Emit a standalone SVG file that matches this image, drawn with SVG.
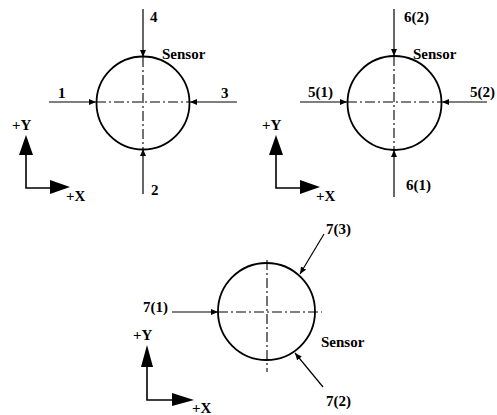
<svg xmlns="http://www.w3.org/2000/svg" width="497" height="415" viewBox="0 0 497 415">
<defs>
<style>
.circ{fill:none;stroke:#000;stroke-width:1.8}
.cl{fill:none;stroke:#000;stroke-width:1.1;stroke-dasharray:10 3 2 3}
.ar{fill:none;stroke:#000;stroke-width:1.2;marker-end:url(#ah)}
.ax{fill:none;stroke:#000;stroke-width:1.6}
.axh{fill:#000;stroke:none}
text{font-family:"Liberation Serif","Times New Roman",serif;font-weight:bold;font-size:15px;fill:#000}
</style>
<marker id="ah" markerUnits="userSpaceOnUse" markerWidth="8" markerHeight="6" refX="7" refY="3" orient="auto">
<path d="M0,0 L7,3 L0,6 Z" fill="#000"/>
</marker>
</defs>
<rect width="497" height="415" fill="#fff"/>

<g id="sensor1">
<circle class="circ" cx="143" cy="103" r="46.5"/>
<line class="cl" x1="96" y1="102" x2="190" y2="102"/>
<line class="cl" x1="143" y1="57" x2="143" y2="149"/>
<text x="162" y="59">Sensor</text>
</g>
<g id="sensor2">
<circle class="circ" cx="394.5" cy="103" r="47"/>
<line class="cl" x1="347" y1="102" x2="442" y2="102"/>
<line class="cl" x1="394" y1="56" x2="394" y2="150"/>
<text x="413" y="59">Sensor</text>
</g>
<g id="sensor3">
<circle class="circ" cx="266.5" cy="311.5" r="48.5"/>
<line class="cl" x1="218" y1="312" x2="322" y2="312"/>
<line class="cl" x1="267" y1="260" x2="267" y2="372"/>
<text x="321" y="347">Sensor</text>
</g>

<g id="connectors">
<line class="ar" x1="143" y1="9" x2="143" y2="57"/>
<line class="ar" x1="49" y1="102" x2="96" y2="102"/>
<line class="ar" x1="237" y1="102" x2="190" y2="102"/>
<line class="ar" x1="143" y1="194" x2="143" y2="149"/>
<line class="ar" x1="394" y1="9" x2="394" y2="56"/>
<line class="ar" x1="300" y1="102" x2="347" y2="102"/>
<line class="ar" x1="487" y1="102" x2="442" y2="102"/>
<line class="ar" x1="394" y1="197" x2="394" y2="150"/>
<line class="ar" x1="172" y1="312" x2="218" y2="312"/>
<line class="ar" x1="324" y1="234" x2="300" y2="274"/>
<line class="ar" x1="323" y1="387" x2="295" y2="353"/>
</g>

<g id="labels">
<text x="150" y="22">4</text>
<text x="58" y="98">1</text>
<text x="221" y="98">3</text>
<text x="151" y="195">2</text>
<text x="404" y="22">6(2)</text>
<text x="308" y="97">5(1)</text>
<text x="470" y="97">5(2)</text>
<text x="406" y="190">6(1)</text>
<text x="326" y="234">7(3)</text>
<text x="143" y="312">7(1)</text>
<text x="326" y="406">7(2)</text>
</g>

<g id="axes1">
<polyline class="ax" points="26,150 26,188 52,188"/>
<polygon class="axh" points="26,135 19,155 33,155"/>
<polygon class="axh" points="70,187 50,180 50,194"/>
<text x="12" y="130">+Y</text>
<text x="66" y="201">+X</text>
</g>
<g id="axes2">
<polyline class="ax" points="276,150 276,188 302,188"/>
<polygon class="axh" points="276,135 269,155 283,155"/>
<polygon class="axh" points="320,187 300,180 300,194"/>
<text x="262" y="130">+Y</text>
<text x="316" y="201">+X</text>
</g>
<g id="axes3">
<polyline class="ax" points="147,362 147,400 174,400"/>
<polygon class="axh" points="147,345 141,367 153,367"/>
<polygon class="axh" points="194,400 172,393 172,406"/>
<text x="133" y="340">+Y</text>
<text x="192" y="413">+X</text>
</g>
</svg>
